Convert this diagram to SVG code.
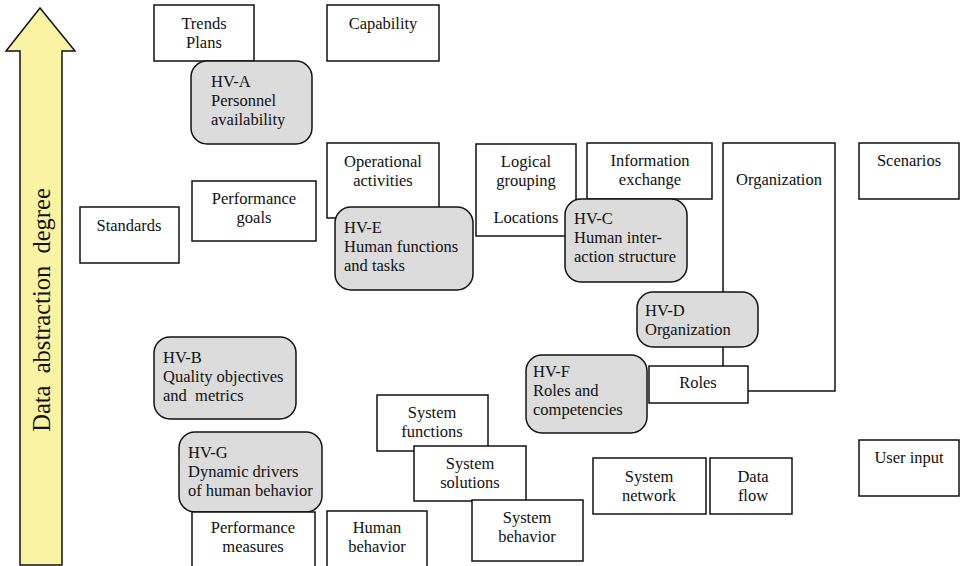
<svg xmlns="http://www.w3.org/2000/svg" width="960" height="566" viewBox="0 0 960 566">
  <style>
    .box { fill: #ffffff; stroke: #111111; stroke-width: 1.5; }
    .hv { fill: #dcdcdc; stroke: #111111; stroke-width: 1.5; }
    text { font-family: "Liberation Serif", "Times New Roman", Times, "DejaVu Serif", serif; font-size: 16.5px; fill: #111111; }
    .c { text-anchor: middle; }
    .axis { font-size: 24.5px; text-anchor: middle; }
  </style>

  <!-- Vertical axis arrow -->
  <g id="axis-arrow">
    <polygon points="40,8 75,51 62,51 62,565 20,565 20,51 6,51" fill="#f9f3a3" stroke="#111111" stroke-width="1.5"/>
    <text class="axis" x="50" y="310" transform="rotate(-90 50 310)" xml:space="preserve">Data  abstraction  degree</text>
  </g>

  <!-- Top row -->
  <g id="trends-plans">
    <rect class="box" x="154" y="5" width="100" height="56"/>
    <text class="c" x="204" y="29">Trends</text>
    <text class="c" x="204" y="48">Plans</text>
  </g>
  <g id="hv-a">
    <rect class="hv" x="191" y="61" width="121" height="83" rx="16"/>
    <text x="211" y="87">HV-A</text>
    <text x="211" y="106">Personnel</text>
    <text x="211" y="125">availability</text>
  </g>
  <g id="capability">
    <rect class="box" x="327" y="5" width="112" height="56"/>
    <text class="c" x="383" y="29">Capability</text>
  </g>

  <!-- Upper middle band -->
  <g id="standards">
    <rect class="box" x="80" y="207" width="99" height="56"/>
    <text class="c" x="129" y="231">Standards</text>
  </g>
  <g id="performance-goals">
    <rect class="box" x="192" y="181" width="124" height="60"/>
    <text class="c" x="254" y="204">Performance</text>
    <text class="c" x="254" y="223">goals</text>
  </g>
  <g id="operational-activities">
    <rect class="box" x="327" y="143" width="112" height="75"/>
    <text class="c" x="383" y="167">Operational</text>
    <text class="c" x="383" y="186">activities</text>
  </g>
  <g id="hv-e">
    <rect class="hv" x="335" y="207" width="138" height="83" rx="16"/>
    <text x="344" y="233">HV-E</text>
    <text x="344" y="252">Human functions</text>
    <text x="344" y="271">and tasks</text>
  </g>
  <g id="logical-grouping">
    <rect class="box" x="476" y="144" width="100" height="92"/>
    <text class="c" x="526" y="167">Logical</text>
    <text class="c" x="526" y="186">grouping</text>
    <text class="c" x="526" y="223">Locations</text>
  </g>
  <g id="information-exchange">
    <rect class="box" x="587" y="143" width="125" height="56"/>
    <text class="c" x="650" y="166">Information</text>
    <text class="c" x="650" y="185">exchange</text>
  </g>
  <g id="hv-c">
    <rect class="hv" x="565" y="199" width="122" height="83" rx="16"/>
    <text x="574" y="224">HV-C</text>
    <text x="574" y="243">Human inter-</text>
    <text x="574" y="262">action structure</text>
  </g>
  <g id="organization">
    <rect class="box" x="723" y="143" width="112" height="248"/>
    <text class="c" x="779" y="185">Organization</text>
  </g>
  <g id="scenarios">
    <rect class="box" x="859" y="143" width="100" height="56"/>
    <text class="c" x="909" y="166">Scenarios</text>
  </g>
  <g id="hv-d">
    <rect class="hv" x="637" y="292" width="121" height="55" rx="16"/>
    <text x="645" y="316">HV-D</text>
    <text x="645" y="335">Organization</text>
  </g>
  <g id="roles">
    <rect class="box" x="649" y="366" width="99" height="37"/>
    <text class="c" x="698" y="388">Roles</text>
  </g>
  <g id="hv-f">
    <rect class="hv" x="526" y="355" width="121" height="78" rx="16"/>
    <text x="533" y="377">HV-F</text>
    <text x="533" y="396">Roles and</text>
    <text x="533" y="415">competencies</text>
  </g>

  <!-- Lower band -->
  <g id="hv-b">
    <rect class="hv" x="154" y="337" width="142" height="82" rx="16"/>
    <text x="163" y="363">HV-B</text>
    <text x="163" y="382">Quality objectives</text>
    <text x="163" y="401" xml:space="preserve">and  metrics</text>
  </g>
  <g id="hv-g">
    <rect class="hv" x="179" y="432" width="143" height="80" rx="16"/>
    <text x="188" y="458">HV-G</text>
    <text x="188" y="477">Dynamic drivers</text>
    <text x="188" y="496">of human behavior</text>
  </g>
  <g id="performance-measures">
    <rect class="box" x="192" y="512" width="123" height="56"/>
    <text class="c" x="253" y="533">Performance</text>
    <text class="c" x="253" y="552">measures</text>
  </g>
  <g id="human-behavior">
    <rect class="box" x="327" y="511" width="100" height="57"/>
    <text class="c" x="377" y="533">Human</text>
    <text class="c" x="377" y="552">behavior</text>
  </g>
  <g id="system-functions">
    <rect class="box" x="377" y="395" width="111" height="56"/>
    <text class="c" x="432" y="418">System</text>
    <text class="c" x="432" y="437">functions</text>
  </g>
  <g id="system-solutions">
    <rect class="box" x="414" y="446" width="112" height="55"/>
    <text class="c" x="470" y="469">System</text>
    <text class="c" x="470" y="488">solutions</text>
  </g>
  <g id="system-behavior">
    <rect class="box" x="472" y="500" width="111" height="61"/>
    <text class="c" x="527" y="523">System</text>
    <text class="c" x="527" y="542">behavior</text>
  </g>
  <g id="system-network">
    <rect class="box" x="593" y="458" width="113" height="56"/>
    <text class="c" x="649" y="482">System</text>
    <text class="c" x="649" y="501">network</text>
  </g>
  <g id="data-flow">
    <rect class="box" x="710" y="458" width="82" height="56"/>
    <text class="c" x="753" y="482">Data</text>
    <text class="c" x="753" y="501">flow</text>
  </g>
  <g id="user-input">
    <rect class="box" x="859" y="440" width="100" height="56"/>
    <text class="c" x="909" y="463">User input</text>
  </g>
</svg>
